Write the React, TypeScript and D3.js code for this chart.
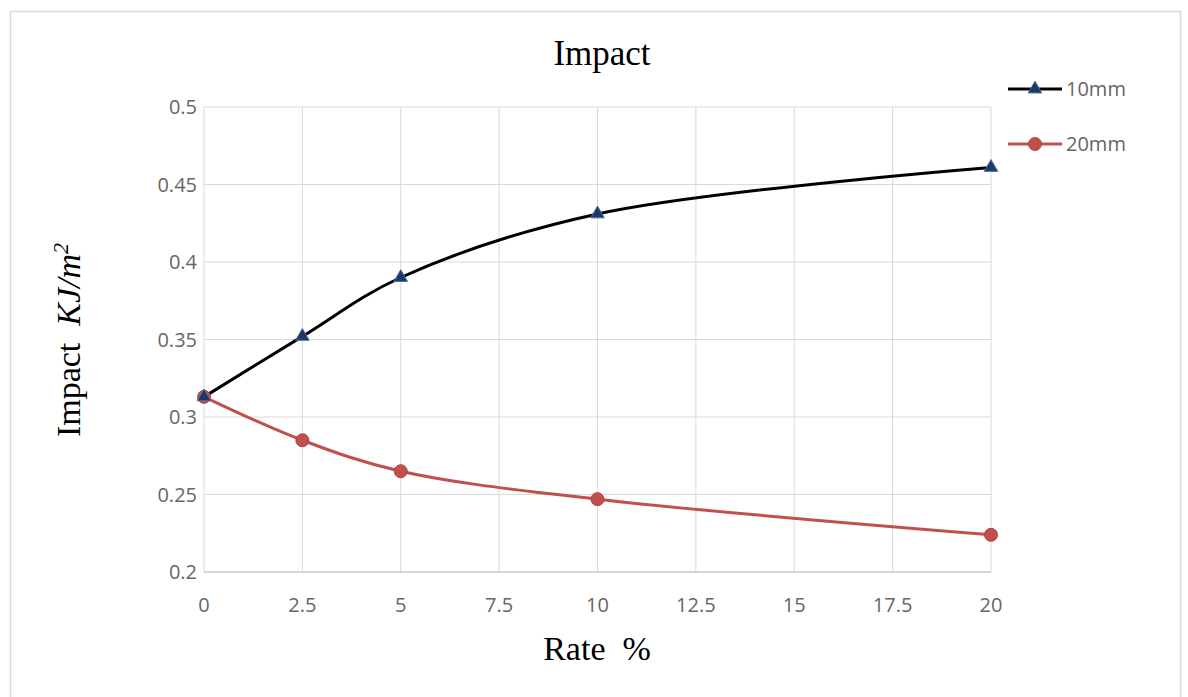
import React from "react";
import * as d3 from "d3";

const rates = [0, 2.5, 5, 10, 20];
const impact10mm = [0.313, 0.352, 0.390, 0.431, 0.461];
const impact20mm = [0.313, 0.285, 0.265, 0.247, 0.224];
const xTicks = [0, 2.5, 5, 7.5, 10, 12.5, 15, 17.5, 20];
const yTicks = [0.2, 0.25, 0.3, 0.35, 0.4, 0.45, 0.5];
const seriesNames = ["10mm", "20mm"];

export default function App() {
  const W = 1188, H = 697;
  const left = 204, right = 991, top = 107, bottom = 572;
  const x = d3.scaleLinear().domain([0, 20]).range([left, right]);
  const y = d3.scaleLinear().domain([0.2, 0.5]).range([bottom, top]);
  const line = d3
    .line<[number, number]>()
    .x((d) => x(d[0]))
    .y((d) => y(d[1]))
    .curve(d3.curveCatmullRom.alpha(0.5));
  const d10 = rates.map((r, i) => [r, impact10mm[i]] as [number, number]);
  const d20 = rates.map((r, i) => [r, impact20mm[i]] as [number, number]);
  const tri = d3.symbol().type(d3.symbolTriangle).size(80)();
  const sans = "'Open Sans', 'Noto Sans', sans-serif";
  const serif = "'Liberation Serif', 'Times New Roman', serif";
  const fmt = (v: number) => String(+v.toFixed(2));
  return (
    <svg width={W} height={H} style={{ position: "absolute", left: 0, top: 0, background: "#fff" }}>
      <path d={`M10.5,${H} L10.5,11.5 L1180.5,11.5 L1180.5,${H}`} fill="none" stroke="#d9d9d9" strokeWidth={1.5} />
      {/* grid */}
      {xTicks.map((t) => (
        <line key={"gx" + t} x1={x(t)} x2={x(t)} y1={top} y2={bottom} stroke="#d9d9d9" strokeWidth={1} />
      ))}
      {yTicks.map((t) => (
        <line key={"gy" + t} x1={left} x2={right} y1={y(t)} y2={y(t)} stroke="#d9d9d9" strokeWidth={1} />
      ))}
      <line x1={left} x2={right} y1={bottom} y2={bottom} stroke="#bfbfbf" strokeWidth={1.2} />
      {/* tick labels */}
      {yTicks.map((t) => (
        <text key={"ty" + t} x={197} y={y(t) + 7} textAnchor="end" fontFamily={sans} fontSize={20} fill="#666">
          {fmt(t)}
        </text>
      ))}
      {xTicks.map((t) => (
        <text key={"tx" + t} x={x(t)} y={612} textAnchor="middle" fontFamily={sans} fontSize={20} fill="#666">
          {fmt(t)}
        </text>
      ))}
      {/* lines */}
      <path d={line(d10) || ""} fill="none" stroke="#000" strokeWidth={3} />
      <path d={line(d20) || ""} fill="none" stroke="#c0504d" strokeWidth={3} />
      {d20.map((d, i) => (
        <circle key={"c" + i} cx={x(d[0])} cy={y(d[1])} r={6.5} fill="#c0504d" stroke="#b8403d" strokeWidth={1} />
      ))}
      {d10.map((d, i) => (
        <path key={"t" + i} d={tri || ""} transform={`translate(${x(d[0])},${y(d[1])})`} fill="#1f3864" stroke="#4a6fa5" strokeWidth={1} />
      ))}
      {/* title */}
      <text x={602} y={65} textAnchor="middle" fontFamily={serif} fontSize={35} fill="#000">
        Impact
      </text>
      <text x={597} y={660} textAnchor="middle" fontFamily={serif} fontSize={34} fill="#000" style={{ whiteSpace: "pre" }}>
        {"Rate  %"}
      </text>
      <text transform="translate(80,340) rotate(-90)" textAnchor="middle" fontFamily={serif} fontSize={34} fill="#000" style={{ whiteSpace: "pre" }}>
        {"Impact  "}
        <tspan fontStyle="italic">KJ/m</tspan>
        <tspan fontStyle="italic" fontSize={22} dy={-12}>2</tspan>
      </text>
      {/* legend */}
      {seriesNames.map((n, i) => {
        const ly = 89 + i * 55;
        const col = i === 0 ? "#000" : "#c0504d";
        return (
          <g key={n}>
            <line x1={1008} x2={1062} y1={ly} y2={ly} stroke={col} strokeWidth={3} />
            {i === 0 ? (
              <path d={tri || ""} transform={`translate(1035,${ly})`} fill="#1f3864" stroke="#4a6fa5" strokeWidth={1} />
            ) : (
              <circle cx={1035} cy={ly} r={6.5} fill="#c0504d" stroke="#b8403d" />
            )}
            <text x={1066} y={ly + 7} fontFamily={sans} fontSize={20} fill="#666">
              {n}
            </text>
          </g>
        );
      })}
    </svg>
  );
}
